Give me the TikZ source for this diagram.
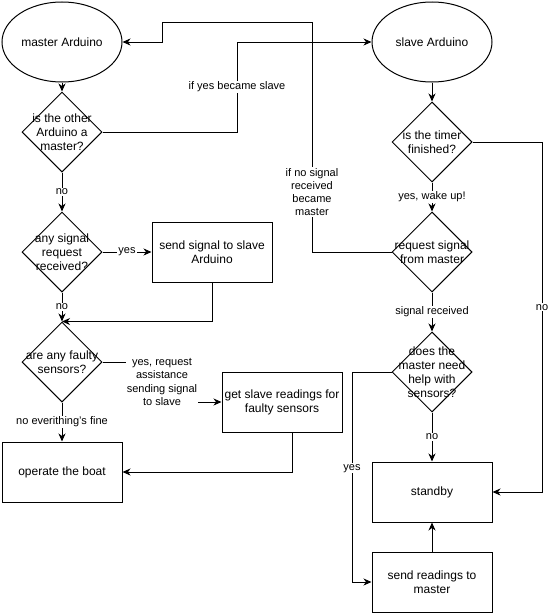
\documentclass[tikz,border=0pt]{standalone}
\usepackage{fontspec}
\setmainfont{Liberation Sans}
\usetikzlibrary{shapes.geometric,arrows.meta,calc}
\begin{document}
\begin{tikzpicture}[x=1pt,y=-1pt,
  every node/.style={font=\fontsize{12}{14}\selectfont},
  base/.style={draw=black,line width=1pt,inner sep=0pt},
  term/.style={base,ellipse,minimum width=120pt,minimum height=80pt},
  box/.style={base,rectangle,minimum width=120pt,minimum height=60pt,align=center},
  dec/.style={base,diamond,minimum width=80pt,minimum height=80pt},
  dtext/.style={align=center,inner sep=0pt},
  conn/.style={line width=1pt,-{Stealth[length=8pt,width=7pt,inset=2.5pt]}},
  lbl/.style={fill=white,inner sep=1pt,align=center,font=\fontsize{11}{13.2}\selectfont}
]
\useasboundingbox (0,0) rectangle (551,613);

% left column
\node[term] (m) at (62,42) {master Arduino};
\node[dec,label={[dtext]center:{is the other\\Arduino a\\master?}}] (d1) at (62,132) {};
\node[dec,label={[dtext]center:{any signal\\request\\received?}}] (d2) at (62,252) {};
\node[box] (ss) at (212,252) {send signal to slave\\Arduino};
\node[dec,label={[dtext]center:{are any faulty\\sensors?}}] (d3) at (62,362) {};
\node[box] (gs) at (282,402) {get slave readings for\\faulty sensors};
\node[box] (ob) at (62,472) {operate the boat};

% right column
\node[term] (s) at (432,42) {slave Arduino};
\node[dec,label={[dtext]center:{is the timer\\finished?}}] (t) at (432,142) {};
\node[dec,label={[dtext]center:{request signal\\from master}}] (r) at (432,252) {};
\node[dec,label={[dtext]center:{does the\\master need\\help with\\sensors?}}] (d4) at (432,372) {};
\node[box] (sb) at (432,492) {standby};
\node[box] (sr) at (432,582) {send readings to\\master};

% connectors
\draw[conn] (m) -- (d1);
\draw[conn] (d1.east) -- (237,132) |- node[lbl,pos=0.25]{if yes became slave} (s.west);
\draw[conn] (r.west) -- (312,252) -- node[lbl,pos=0.26]{if no signal\\received\\became\\master} (312,22) -- (162,22) |- (m.east);
\draw[conn] (d1) -- node[lbl]{no} (d2);
\draw[conn] (d2) -- node[lbl]{yes} (ss);
\draw[conn] (d2) -- node[lbl]{no} (d3);
\draw[conn] (ss.south) |- (d3.north);
\draw[conn] (d3.east) -- (162,362) |- node[lbl,pos=0.25]{yes, request\\assistance\\sending signal\\to slave} (gs.west);
\draw[conn] (d3) -- node[lbl]{no everithing's fine} (ob);
\draw[conn] ($(gs.south)+(10,0)$) |- (ob.east);

\draw[conn] (s) -- (t);
\draw[conn] (t) -- node[lbl]{yes, wake up!} (r);
\draw[conn] (t.east) -- (542,142) |- node[lbl,pos=0.236]{no} (sb.east);
\draw[conn] (r) -- node[lbl]{signal received} (d4);
\draw[conn] (d4) -- node[lbl]{no} (sb);
\draw[conn] (d4.west) -- (352,372) |- node[lbl,pos=0.229]{yes} (sr.west);
\draw[conn] (sr) -- (sb);
\end{tikzpicture}
\end{document}
